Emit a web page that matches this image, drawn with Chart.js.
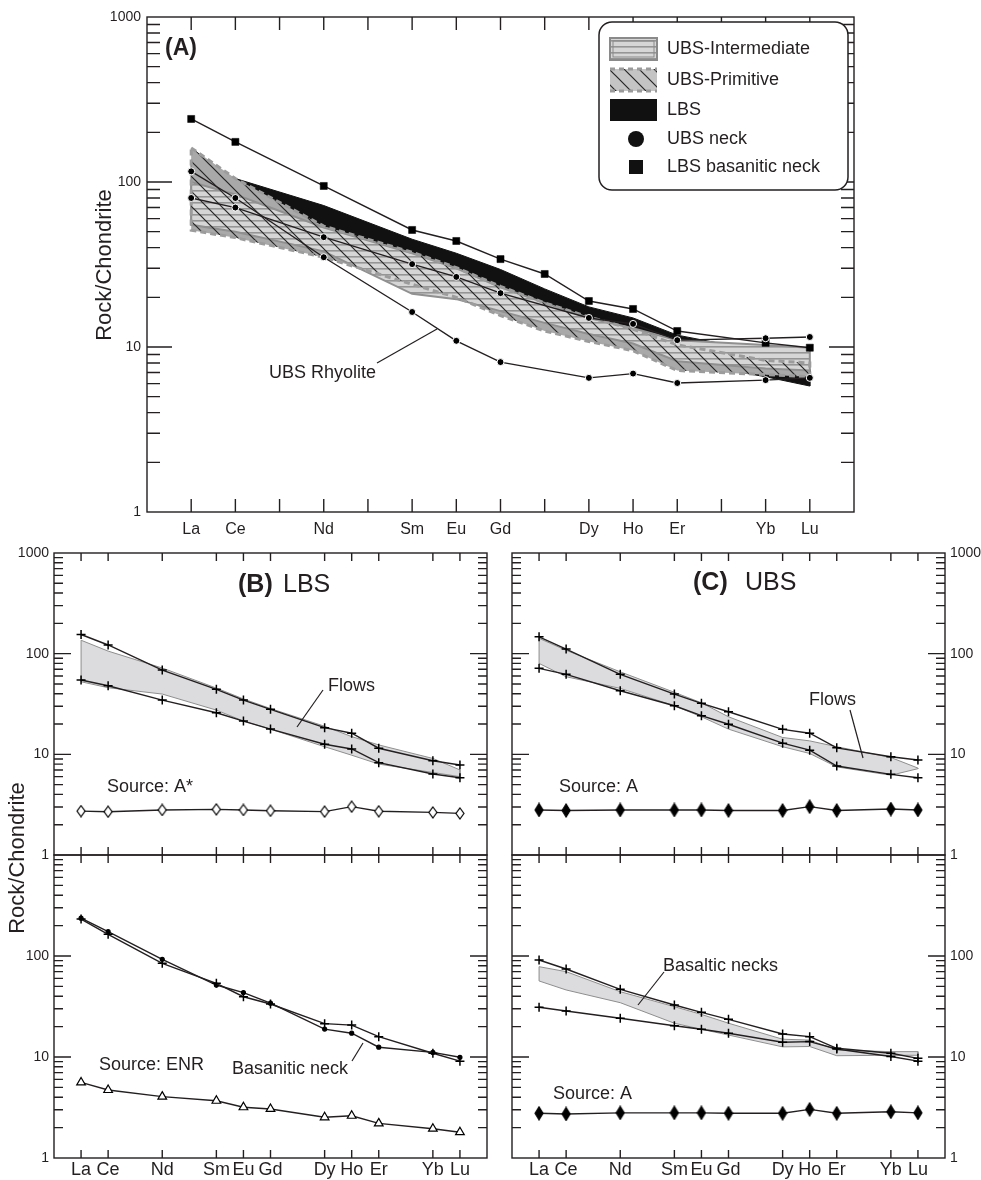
<!DOCTYPE html>
<html lang="en">
<head>
<meta charset="UTF-8">
<title>REE chondrite-normalised patterns</title>
<script src="https://cdn.jsdelivr.net/npm/chart.js"></script>
<style>
    body { margin: 0; background: #fff; }
    #wrap { position: relative; width: 981px; height: 1180px; }
    #wrap canvas { position: absolute; left: 0; top: 0; }
</style>
</head>
<body>
<div id="wrap">
    <canvas id="chartA" width="981" height="1180"></canvas>
    <canvas id="chartBt" width="981" height="1180"></canvas>
    <canvas id="chartBb" width="981" height="1180"></canvas>
    <canvas id="chartCt" width="981" height="1180"></canvas>
    <canvas id="chartCb" width="981" height="1180"></canvas>
</div>
<script>
// x position = index in the full lanthanide row
var REE_ALL = ['La', 'Ce', 'Pr', 'Nd', 'Pm', 'Sm', 'Eu', 'Gd', 'Tb', 'Dy', 'Ho', 'Er', 'Tm', 'Yb', 'Lu'];
var REE_A = ['La', 'Ce', 'Nd', 'Sm', 'Eu', 'Gd', 'Tb', 'Dy', 'Ho', 'Er', 'Yb', 'Lu'];
var REE = ['La', 'Ce', 'Nd', 'Sm', 'Eu', 'Gd', 'Dy', 'Ho', 'Er', 'Yb', 'Lu'];

// (A) values per REE_A
var lbsNeckA = [241, 175, 94.6, 51.2, 43.9, 34.1, 27.7, 19.0, 17.0, 12.5, 10.6, 9.9];
var ubsNeckA = [80, 70, 46.3, 31.8, 26.6, 21.2, null, 15.0, 13.8, 11.0, 11.3, 11.5];
var rhyoliteA = [116, 80, 35, 16.3, 10.9, 8.1, null, 6.5, 6.9, 6.05, 6.3, 6.5];
var lbsTop = [136, 105, 72, 45, 37, 29.5, 22.5, 17.5, 15, 11.8, 9.3, 7.3];
var lbsBot = [55, 48, 38, 27, 22, 18, 15, 12.5, 10.5, 8.2, 6.6, 5.8];
var intTop = [100, 84, 53, 37, 30, 23, 18.5, 15, 13, 11, 10.3, 9.9];
var intBot = [55, 50, 38, 21, 19.5, 16.5, 14, 12, 10.5, 8.2, 7.4, 7.2];
var primTop = [161, 105, 54, 37.5, 30.3, 23.3, 18.5, 15.2, 12.8, 10.3, 8.3, 8];
var primBot = [51, 46, 35, 24, 20, 15.5, 12.5, 10.8, 9.5, 7.2, 6.8, 6.6];

// (B) LBS, values per REE
var bFlowHi = [155, 122, 68.7, 44.2, 34.6, 28.0, 18.4, 16.2, 11.5, 8.64, 7.83];
var bFlowLo = [54.7, 48, 34.6, 25.9, 21.4, 17.8, 12.6, 11.3, 8.26, 6.37, 5.86];
var bFieldTop = [136, 106, 72, 45.5, 35.5, 28.5, 19, 15, 12.4, 9.1, 7.0];
var bFieldBot = [52.6, 45.9, 39.7, 27.5, 21.4, 17.8, 11.9, 9.8, 8.0, 6.6, 6.0];
var bSourceA = [2.73, 2.69, 2.80, 2.84, 2.80, 2.75, 2.70, 3.02, 2.72, 2.65, 2.59];
var bNeckPlus = [232, 164, 84.7, 53.7, 39.5, 33.5, 21.4, 20.7, 15.9, 10.9, 9.1];
var bNeckDot = [237, 174, 92.7, 51.6, 43.4, 34.1, 18.9, 17.2, 12.5, 11.1, 9.93];
var bSourceENR = [5.6, 4.71, 4.05, 3.69, 3.18, 3.06, 2.53, 2.62, 2.2, 1.95, 1.8];

// (C) UBS, values per REE
var cFlowHi = [147, 111, 62.3, 39.7, 32.1, 26.5, 17.7, 16.2, 11.6, 9.47, 8.78];
var cFlowLo = [71.5, 62.3, 42.8, 30.4, 24.2, 19.9, 12.9, 11.0, 7.65, 6.33, 5.86];
var cFieldTop = [142, 108, 66, 41.3, 32.5, 23.6, 14.7, 13.6, 11.9, 9.3, 7.3];
var cFieldBot = [80, 59, 45.2, 30.4, 23.6, 17.8, 11.9, 10.2, 7.5, 6.2, 7.2];
var cSourceA = [2.80, 2.77, 2.80, 2.80, 2.80, 2.77, 2.77, 3.02, 2.77, 2.86, 2.80];
var cNeckHi = [91.3, 74.3, 46.8, 32.7, 27.7, 23.6, 16.9, 15.9, 12.2, 10.9, 9.7];
var cNeckLo = [31.1, 28.5, 24.2, 20.4, 18.8, 17.2, 14.0, 14.2, 12.0, 10.1, 9.1];
var cNeckFieldTop = [78.4, 70, 44.3, 31.5, 26.4, 21.6, 15.0, 14.7, 11.7, 11.3, 11.3];
var cNeckFieldBot = [56.6, 46.1, 34.5, 21.6, 18.8, 16.5, 12.6, 12.7, 10.3, 10.4, 10.4];
var cSourceA2 = [2.77, 2.73, 2.80, 2.80, 2.80, 2.77, 2.77, 3.03, 2.77, 2.87, 2.80];

var INK = '#231f20';
var FONT = '"Liberation Sans", Arial, Helvetica, sans-serif';

function pts(names, vals) {
    var out = [];
    names.forEach(function (n, i) {
        if (vals[i] != null) out.push({ x: REE_ALL.indexOf(n), y: vals[i] });
    });
    return out;
}
function poly(names, top, bot) {
    var up = pts(names, top);
    return up.concat(pts(names, bot).reverse(), [up[0]]);
}

// fill patterns
function tile(w, h, draw) {
    var c = document.createElement('canvas');
    c.width = w; c.height = h;
    draw(c.getContext('2d'));
    return document.createElement('canvas').getContext('2d').createPattern(c, 'repeat');
}
var horizPattern = tile(8, 6, function (g) {
    g.fillStyle = '#d6d6d6'; g.fillRect(0, 0, 8, 6);
    g.fillStyle = '#959595'; g.fillRect(0, 4, 8, 1.6);
});
var diagPattern = tile(15, 15, function (g) {
    g.strokeStyle = '#262626'; g.lineWidth = 1.2;
    g.beginPath();
    g.moveTo(-2, -2); g.lineTo(17, 17);
    g.moveTo(-2, 13); g.lineTo(2, 17);
    g.moveTo(13, -2); g.lineTo(17, 2);
    g.stroke();
});

function diamond(w, h, fill) {
    var c = document.createElement('canvas');
    c.width = w + 2; c.height = h + 2;
    var g = c.getContext('2d');
    g.beginPath();
    g.moveTo(c.width / 2, 1); g.lineTo(c.width - 1, c.height / 2);
    g.lineTo(c.width / 2, c.height - 1); g.lineTo(1, c.height / 2);
    g.closePath();
    g.fillStyle = fill; g.fill();
    g.lineWidth = 1.2; g.strokeStyle = '#000'; g.stroke();
    return c;
}
var openDiamond = diamond(8, 11, '#fff');
var fullDiamond = diamond(8, 13, '#000');

function series(data, marker) {
    var ds = {
        data: data, borderColor: INK, borderWidth: 1.4, fill: false, order: 1,
        pointRadius: 4, pointStyle: 'circle', pointBackgroundColor: '#000',
        pointBorderColor: '#000', pointBorderWidth: 1.2
    };
    return Object.assign(ds, marker);
}
var plusMk = { pointStyle: 'cross', pointRadius: 4.5, pointBorderWidth: 1.5 };
var grayField = { borderColor: '#8e8e8e', borderWidth: 1, backgroundColor: '#dcdcde', fill: 'shape', pointRadius: 0, order: 10 };

// per-panel frame settings
var frameCfg = {
    chartA: { xTicks: REE_ALL, xLabels: REE, xLabelY: 530, xFont: 16, major: 25, minor: 13, xTick: 13,
              yLabels: [1, 10, 100, 1000], ySide: 'left', yLabelX: 141, yFont: 14 },
    chartBt: { xTicks: REE, xLabels: null, major: 17, minor: 9, xTick: 8,
               yLabels: [1, 10, 100, 1000], ySide: 'left', yLabelX: 49, yFont: 14 },
    chartBb: { xTicks: REE, xLabels: REE, xLabelY: 1170, xFont: 18, major: 17, minor: 9, xTick: 8,
               yLabels: [1, 10, 100], ySide: 'left', yLabelX: 49, yFont: 14 },
    chartCt: { xTicks: REE, xLabels: null, major: 17, minor: 9, xTick: 8,
               yLabels: [1, 10, 100, 1000], ySide: 'right', yLabelX: 950, yFont: 14 },
    chartCb: { xTicks: REE, xLabels: REE, xLabelY: 1170, xFont: 18, major: 17, minor: 9, xTick: 8,
               yLabels: [1, 10, 100], ySide: 'right', yLabelX: 950, yFont: 14 }
};

// free text and pointer lines (pixels)
var notes = {
    chartA: [
        { t: '(A)', x: 165, y: 49, size: 23, bold: true },
        { t: 'UBS Rhyolite', x: 269, y: 373, size: 18, line: [377, 363, 437, 329] },
        { t: 'Rock/Chondrite', x: 105, y: 265, size: 22, rotate: true }
    ],
    chartBt: [
        { t: '(B)', x: 238, y: 585, size: 25, bold: true },
        { t: 'LBS', x: 283, y: 585, size: 25 },
        { t: 'Flows', x: 328, y: 686, size: 18, line: [323, 690, 297, 727] },
        { t: 'Source: A*', x: 107, y: 787, size: 18 },
        { t: 'Rock/Chondrite', x: 18, y: 858, size: 22, rotate: true }
    ],
    chartBb: [
        { t: 'Source: ENR', x: 99, y: 1065, size: 18 },
        { t: 'Basanitic neck', x: 232, y: 1069, size: 18, line: [352, 1061, 363, 1043] }
    ],
    chartCt: [
        { t: '(C)', x: 693, y: 583, size: 25, bold: true },
        { t: 'UBS', x: 745, y: 583, size: 25 },
        { t: 'Flows', x: 809, y: 700, size: 18, line: [850, 710, 863, 758] },
        { t: 'Source: A', x: 559, y: 787, size: 18 }
    ],
    chartCb: [
        { t: 'Basaltic necks', x: 663, y: 966, size: 18, line: [664, 972, 638, 1005] },
        { t: 'Source: A', x: 553, y: 1094, size: 18 }
    ]
};

function drawLegendA(ctx) {
    ctx.save();
    ctx.beginPath();
    ctx.roundRect(599, 22, 249, 168, 13);
    ctx.fillStyle = '#fff'; ctx.fill();
    ctx.lineWidth = 1.5; ctx.strokeStyle = INK; ctx.stroke();

    // UBS-Intermediate
    ctx.fillStyle = horizPattern; ctx.fillRect(610, 38, 47, 22);
    ctx.strokeStyle = '#8a8a8a'; ctx.lineWidth = 2; ctx.strokeRect(610, 38, 47, 22);
    ctx.lineWidth = 1; ctx.strokeRect(613, 41, 41, 16);
    // UBS-Primitive
    ctx.fillStyle = '#c4c4c4'; ctx.fillRect(610, 69, 47, 22);
    ctx.fillStyle = diagPattern; ctx.fillRect(610, 69, 47, 22);
    ctx.strokeStyle = '#9a9a9a'; ctx.lineWidth = 3; ctx.setLineDash([5, 4]);
    ctx.beginPath(); ctx.moveTo(610, 69); ctx.lineTo(657, 69); ctx.moveTo(610, 91); ctx.lineTo(657, 91); ctx.stroke();
    ctx.setLineDash([]);
    // LBS
    ctx.fillStyle = '#111'; ctx.fillRect(610, 99, 47, 22);
    // UBS neck
    ctx.beginPath(); ctx.arc(636, 139, 8, 0, Math.PI * 2); ctx.fill();
    // LBS basanitic neck
    ctx.fillRect(629, 160, 14, 14);

    ctx.fillStyle = INK; ctx.font = '18px ' + FONT; ctx.textBaseline = 'middle'; ctx.textAlign = 'left';
    ['UBS-Intermediate', 'UBS-Primitive', 'LBS', 'UBS neck', 'LBS basanitic neck'].forEach(function (t, i) {
        ctx.fillText(t, 667, [49, 80, 110, 139, 167][i]);
    });
    ctx.restore();
}

var framePlugin = {
    id: 'frame',
    afterDatasetsDraw: function (chart) {
        var c = frameCfg[chart.canvas.id];
        var ctx = chart.ctx, a = chart.chartArea, xs = chart.scales.x, ys = chart.scales.y;
        ctx.save();
        ctx.strokeStyle = INK; ctx.lineWidth = 1.4;
        ctx.strokeRect(a.left, a.top, a.right - a.left, a.bottom - a.top);
        ctx.beginPath();
        for (var d = 0; d < 3; d++) {
            for (var m = 1; m < 10; m++) {
                if (m === 1 && d === 0) continue;
                var y = ys.getPixelForValue(m * Math.pow(10, d));
                var len = m === 1 ? c.major : c.minor;
                ctx.moveTo(a.left, y); ctx.lineTo(a.left + len, y);
                ctx.moveTo(a.right, y); ctx.lineTo(a.right - len, y);
            }
        }
        c.xTicks.forEach(function (n) {
            var x = xs.getPixelForValue(REE_ALL.indexOf(n));
            ctx.moveTo(x, a.top); ctx.lineTo(x, a.top + c.xTick);
            ctx.moveTo(x, a.bottom); ctx.lineTo(x, a.bottom - c.xTick);
        });
        ctx.stroke();

        ctx.fillStyle = INK;
        ctx.textBaseline = 'middle';
        ctx.font = c.yFont + 'px ' + FONT;
        ctx.textAlign = c.ySide === 'left' ? 'right' : 'left';
        c.yLabels.forEach(function (v) {
            ctx.fillText(String(v), c.yLabelX, ys.getPixelForValue(v));
        });
        if (c.xLabels) {
            ctx.font = c.xFont + 'px ' + FONT;
            ctx.textAlign = 'center';
            c.xLabels.forEach(function (n) {
                ctx.fillText(n, xs.getPixelForValue(REE_ALL.indexOf(n)), c.xLabelY);
            });
        }

        (notes[chart.canvas.id] || []).forEach(function (n) {
            ctx.font = (n.bold ? 'bold ' : '') + n.size + 'px ' + FONT;
            if (n.rotate) {
                ctx.save();
                ctx.translate(n.x, n.y); ctx.rotate(-Math.PI / 2);
                ctx.textAlign = 'center';
                ctx.fillText(n.t, 0, 0);
                ctx.restore();
            } else {
                ctx.textAlign = 'left';
                ctx.fillText(n.t, n.x, n.y);
            }
            if (n.line) {
                ctx.lineWidth = 1.2;
                ctx.beginPath(); ctx.moveTo(n.line[0], n.line[1]); ctx.lineTo(n.line[2], n.line[3]); ctx.stroke();
            }
        });
        if (chart.canvas.id === 'chartA') drawLegendA(ctx);
        ctx.restore();
    }
};

function makeChart(id, pad, datasets) {
    return new Chart(document.getElementById(id), {
        type: 'line',
        data: { datasets: datasets },
        options: {
            responsive: false,
            animation: false,
            events: [],
            layout: { padding: pad },
            plugins: { legend: { display: false }, tooltip: { enabled: false } },
            elements: { line: { tension: 0 } },
            scales: {
                x: { type: 'linear', min: -1, max: 15, display: false },
                y: { type: 'logarithmic', min: 1, max: 1000, display: false }
            }
        },
        plugins: [framePlugin]
    });
}

// (A)
makeChart('chartA', { left: 147, top: 17, right: 127, bottom: 668 }, [
    series(pts(REE_A, rhyoliteA), { pointRadius: 3.5, pointBorderColor: '#fff', pointBorderWidth: 1 }),
    series(pts(REE_A, ubsNeckA), { pointRadius: 3.5, pointBorderColor: '#fff', pointBorderWidth: 1 }),
    series(pts(REE_A, lbsNeckA), { pointStyle: 'rect', pointRadius: 5, pointBorderWidth: 0.5 }),
    { data: poly(REE_A, primTop, primBot), fill: 'shape', backgroundColor: diagPattern,
      borderColor: '#9c9c9c', borderWidth: 3, borderDash: [6, 4], pointRadius: 0, order: 5 },
    { data: poly(REE_A, intTop, intBot), fill: 'shape', backgroundColor: horizPattern,
      borderColor: '#909090', borderWidth: 2, pointRadius: 0, order: 6 },
    { data: poly(REE_A, primTop, primBot), fill: 'shape', backgroundColor: '#a9a9a9',
      borderWidth: 0, borderColor: 'rgba(0,0,0,0)', pointRadius: 0, order: 7 },
    { data: poly(REE_A, lbsTop, lbsBot), fill: 'shape', backgroundColor: '#111',
      borderColor: '#111', borderWidth: 1, pointRadius: 0, order: 8 }
]);

// (B) LBS
makeChart('chartBt', { left: 54, top: 553, right: 494, bottom: 325 }, [
    series(pts(REE, bFlowHi), plusMk),
    series(pts(REE, bFlowLo), plusMk),
    series(pts(REE, bSourceA), { pointStyle: openDiamond }),
    Object.assign({ data: poly(REE, bFieldTop, bFieldBot) }, grayField)
]);
makeChart('chartBb', { left: 54, top: 855, right: 494, bottom: 22 }, [
    series(pts(REE, bNeckPlus), plusMk),
    series(pts(REE, bNeckDot), { pointRadius: 2 }),
    series(pts(REE, bSourceENR), { pointStyle: 'triangle', pointRadius: 5, pointBackgroundColor: '#fff' })
]);

// (C) UBS
makeChart('chartCt', { left: 512, top: 553, right: 36, bottom: 325 }, [
    series(pts(REE, cFlowHi), plusMk),
    series(pts(REE, cFlowLo), plusMk),
    series(pts(REE, cSourceA), { pointStyle: fullDiamond }),
    Object.assign({ data: poly(REE, cFieldTop, cFieldBot) }, grayField)
]);
makeChart('chartCb', { left: 512, top: 855, right: 36, bottom: 22 }, [
    series(pts(REE, cNeckHi), plusMk),
    series(pts(REE, cNeckLo), plusMk),
    series(pts(REE, cSourceA2), { pointStyle: fullDiamond }),
    Object.assign({ data: poly(REE, cNeckFieldTop, cNeckFieldBot) }, grayField)
]);
</script>
</body>
</html>
